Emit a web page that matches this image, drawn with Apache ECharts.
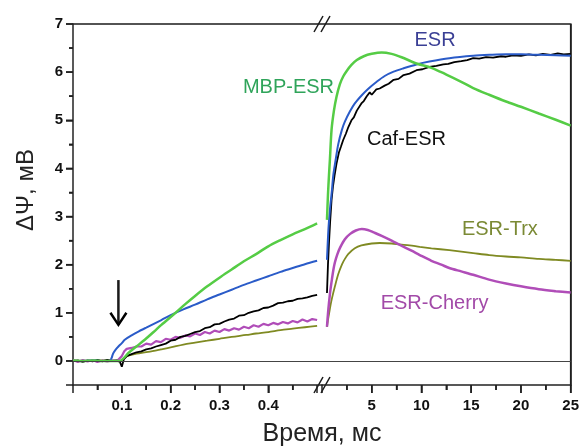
<!DOCTYPE html>
<html>
<head>
<meta charset="UTF-8">
<script src="https://cdn.jsdelivr.net/npm/echarts@6/dist/echarts.min.js"></script>
<style>html,body{margin:0}#chart{width:582px;height:447px}</style>
</head>
<body>
<div id="chart"></div>
<script>
// tick labels and tick positions
var yTickLabels = [0, 1, 2, 3, 4, 5, 6, 7];
var yMinorTicks = [0.5, 1.5, 2.5, 3.5, 4.5, 5.5, 6.5];
var fastTickLabels = [0.1, 0.2, 0.3, 0.4];
var fastMinorTicks = [0.05, 0.15, 0.25, 0.35, 0.45];
var slowTickLabels = [5, 10, 15, 20, 25];
var slowMinorTicks = [2.5, 7.5, 12.5, 17.5, 22.5];

// data: [time ms, ΔΨ mV], fast part 0–0.5 ms, slow part 0.5–25 ms
var mbpFast = [[0,0.01],[0.02,0],[0.04,0.01],[0.06,0],[0.08,0],[0.096,0],[0.105,0.07],[0.113,0.16],[0.13,0.3],[0.147,0.44],[0.165,0.6],[0.181,0.75],[0.209,0.99],[0.23,1.18],[0.25,1.35],[0.275,1.55],[0.3,1.73],[0.325,1.9],[0.35,2.07],[0.375,2.22],[0.4,2.38],[0.425,2.51],[0.45,2.63],[0.475,2.74],[0.5,2.86]];
var mbpSlow = [[0.5,2.93],[0.6,3.45],[0.7,3.85],[0.8,4.2],[0.96,4.8],[1.2,5.2],[1.46,5.49],[1.8,5.75],[2.13,5.91],[2.5,6.03],[2.96,6.15],[3.5,6.25],[4.2,6.33],[5,6.38],[6,6.41],[7,6.38],[8,6.31],[9.5,6.18],[11,6.09],[12.5,5.95],[14,5.8],[15.2,5.67],[16.8,5.53],[18.5,5.39],[20,5.28],[21.8,5.14],[23.5,5.01],[25,4.89]];

var esrFast = [[0,0],[0.02,0],[0.04,0.01],[0.06,0],[0.075,0],[0.079,0.06],[0.082,0.15],[0.087,0.23],[0.093,0.3],[0.1,0.37],[0.106,0.44],[0.12,0.53],[0.134,0.61],[0.15,0.69],[0.181,0.85],[0.2,0.95],[0.226,1.07],[0.25,1.17],[0.275,1.28],[0.3,1.38],[0.325,1.48],[0.35,1.58],[0.375,1.67],[0.4,1.76],[0.425,1.85],[0.45,1.93],[0.475,2.01],[0.5,2.08]];
var esrSlow = [[0.5,2.1],[0.65,2.75],[0.8,3.15],[1.0,3.55],[1.13,3.85],[1.35,4.15],[1.63,4.5],[2.0,4.8],[2.3,4.97],[2.8,5.18],[3.3,5.35],[4.0,5.52],[4.63,5.65],[5.5,5.8],[6.3,5.92],[7.2,6.01],[8.2,6.08],[9.5,6.16],[10.8,6.22],[12.8,6.29],[15.2,6.34],[17,6.36],[18.5,6.37],[20,6.37],[21.8,6.36],[23.5,6.35],[25,6.34]];

var cafFast = [[0,0],[0.01,0.01],[0.02,-0.02],[0.03,0.01],[0.04,-0.01],[0.05,0.02],[0.06,-0.01],[0.07,0.02],[0.08,0],[0.09,0.01],[0.096,-0.02],[0.1,-0.12],[0.104,0.03],[0.11,0.1],[0.12,0.14],[0.13,0.18],[0.14,0.2],[0.15,0.24],[0.16,0.26],[0.17,0.3],[0.18,0.33],[0.19,0.36],[0.2,0.42],[0.21,0.44],[0.22,0.5],[0.23,0.52],[0.24,0.56],[0.25,0.6],[0.26,0.62],[0.27,0.68],[0.28,0.7],[0.29,0.76],[0.3,0.77],[0.31,0.82],[0.32,0.86],[0.33,0.88],[0.34,0.94],[0.35,0.95],[0.36,1.0],[0.37,1.03],[0.38,1.05],[0.39,1.1],[0.4,1.11],[0.41,1.15],[0.42,1.2],[0.43,1.21],[0.44,1.24],[0.45,1.25],[0.46,1.29],[0.47,1.3],[0.48,1.32],[0.49,1.35],[0.5,1.37]];
var cafSlow = [[0.5,1.41],[0.6,2.0],[0.7,2.44],[0.82,2.9],[0.96,3.34],[1.1,3.62],[1.26,3.85],[1.46,4.1],[1.7,4.33],[1.9,4.45],[2.13,4.59],[2.4,4.72],[2.65,4.86],[2.96,5.0],[3.2,5.06],[3.5,5.2],[3.7,5.22],[3.96,5.35],[4.2,5.4],[4.5,5.5],[4.8,5.58],[5.0,5.53],[5.2,5.55],[5.46,5.64],[5.8,5.66],[6.3,5.72],[6.7,5.76],[7.2,5.84],[7.7,5.86],[8.2,5.94],[8.8,5.97],[9.5,6.04],[10.1,6.06],[10.8,6.11],[11.5,6.13],[12.2,6.16],[12.7,6.17],[13.3,6.21],[14,6.23],[14.6,6.25],[15.2,6.29],[15.8,6.28],[16.5,6.31],[17.2,6.3],[18,6.33],[18.5,6.32],[19.2,6.35],[20,6.34],[20.8,6.37],[21.5,6.35],[22.2,6.38],[23,6.36],[23.7,6.39],[24.3,6.37],[25,6.38]];

var cherryFast = [[0,0.02],[0.01,-0.02],[0.02,0.02],[0.03,-0.01],[0.04,0.02],[0.05,-0.02],[0.06,0.01],[0.07,-0.01],[0.08,0.01],[0.09,0],[0.1,0.1],[0.105,0.2],[0.11,0.25],[0.12,0.27],[0.13,0.3],[0.14,0.3],[0.15,0.36],[0.16,0.34],[0.17,0.41],[0.18,0.39],[0.19,0.46],[0.2,0.44],[0.21,0.5],[0.22,0.48],[0.23,0.53],[0.24,0.51],[0.25,0.57],[0.26,0.54],[0.27,0.6],[0.28,0.57],[0.29,0.63],[0.3,0.6],[0.31,0.66],[0.32,0.63],[0.33,0.68],[0.34,0.65],[0.35,0.71],[0.36,0.68],[0.37,0.74],[0.38,0.71],[0.39,0.77],[0.4,0.74],[0.41,0.79],[0.42,0.76],[0.43,0.81],[0.44,0.78],[0.45,0.83],[0.46,0.8],[0.47,0.86],[0.48,0.82],[0.49,0.87],[0.5,0.85]];
var cherrySlow = [[0.5,0.71],[0.6,0.98],[0.7,1.2],[0.85,1.48],[1.0,1.7],[1.15,1.9],[1.3,2.05],[1.55,2.22],[1.83,2.36],[2.3,2.53],[2.83,2.64],[3.4,2.71],[4.0,2.74],[4.6,2.72],[5.2,2.67],[6.0,2.6],[7.0,2.5],[7.83,2.41],[9.0,2.29],[9.83,2.2],[11,2.08],[12,2.0],[12.8,1.93],[14,1.86],[15.2,1.79],[16.8,1.69],[18.5,1.61],[20,1.55],[21.8,1.49],[23.5,1.45],[25,1.42]];

var trxFast = [[0,0],[0.02,0],[0.04,0],[0.06,0.01],[0.08,0],[0.096,0],[0.105,0.06],[0.113,0.11],[0.13,0.15],[0.154,0.19],[0.18,0.24],[0.2,0.28],[0.226,0.34],[0.25,0.38],[0.275,0.42],[0.3,0.46],[0.325,0.5],[0.355,0.54],[0.375,0.57],[0.4,0.6],[0.425,0.64],[0.45,0.67],[0.475,0.7],[0.5,0.73]];
var trxSlow = [[0.5,0.71],[0.6,0.85],[0.7,0.97],[0.85,1.15],[1.0,1.3],[1.3,1.55],[1.63,1.8],[2.0,2.0],[2.3,2.12],[2.63,2.22],[3.3,2.34],[3.96,2.4],[5.0,2.44],[5.8,2.45],[7.0,2.44],[7.83,2.42],[8.8,2.4],[9.83,2.37],[11,2.34],[12.8,2.3],[14,2.27],[15.2,2.24],[16.8,2.2],[18.5,2.17],[20,2.15],[21.8,2.12],[23.5,2.1],[25,2.08]];

var FONT = 'Liberation Sans';
var INK = '#222';

var chart = echarts.init(document.getElementById('chart'));

function inList(list, v) {
    return list.some(function (x) { return Math.abs(x - v) < 1e-6; });
}
function makeAxis(grid, min, max, pos, interval, shown) {
    var a = {
        type: 'value', gridIndex: grid, min: min, max: max, position: pos,
        axisLine: {show: true, onZero: false, lineStyle: {color: INK, width: 1.5}},
        axisTick: {show: true, length: pos === 'left' ? 7 : 8, lineStyle: {color: INK, width: 1.5}},
        minorTick: {show: true, splitNumber: 2, length: pos === 'left' ? 4 : 5, lineStyle: {color: INK, width: 1.5}},
        axisLabel: {
            color: '#111', fontFamily: FONT, fontWeight: 'bold', fontSize: 15,
            margin: pos === 'left' ? 10 : 13,
            formatter: function (v) { return inList(shown, v) ? String(v) : ''; }
        },
        splitLine: {show: false}
    };
    if (interval) a.interval = interval;
    else a.splitNumber = 7;
    return a;
}
function makeLine(data, color, width, idx, smooth) {
    return {
        type: 'line', data: data, xAxisIndex: idx, yAxisIndex: idx,
        showSymbol: false, smooth: smooth,
        lineStyle: {color: color, width: width}
    };
}
function zeroLine() {
    return {
        symbol: 'none', label: {show: false},
        lineStyle: {color: '#444', width: 1, type: 'solid'},
        data: [{yAxis: 0}]
    };
}

var fastMax = 0.51;
var trxF = makeLine(trxFast, '#7f8a22', 1.8, 0, 0.3);
trxF.markLine = zeroLine();
var trxS = makeLine(trxSlow, '#7f8a22', 1.8, 1, 0.3);
trxS.markLine = zeroLine();
var rightAxis = makeAxis(1, -0.5, 7, 'right', null, []);
rightAxis.axisTick = {show: false};
rightAxis.minorTick = {show: false};
rightAxis.axisLabel = {show: false};

chart.setOption({
    animation: false,
    grid: [
        {left: 73, top: 24, width: 249, height: 361},
        {left: 322, top: 24, width: 250, height: 361}
    ],
    xAxis: [
        makeAxis(0, 0, fastMax, 'bottom', 0.1, fastTickLabels),
        makeAxis(1, 0, 25, 'bottom', 5, slowTickLabels)
    ],
    yAxis: [
        makeAxis(0, -0.5, 7, 'left', null, yTickLabels),
        rightAxis
    ],
    series: [
        trxF,
        makeLine(cherryFast, '#b04db8', 2.2, 0, false),
        makeLine(cafFast, '#000000', 1.8, 0, false),
        makeLine(esrFast, '#2a5bc8', 2, 0, 0.3),
        makeLine(mbpFast, '#55cc45', 2.5, 0, 0.3),
        trxS,
        makeLine(cherrySlow, '#b04db8', 2.5, 1, 0.3),
        makeLine(cafSlow, '#000000', 1.8, 1, false),
        makeLine(esrSlow, '#2a5bc8', 2, 1, 0.3),
        makeLine(mbpSlow, '#55cc45', 2.5, 1, 0.3)
    ]
});

// pixel mappings taken from the axes (interior points only)
function px(fast, t, v) {
    var i = fast ? 0 : 1;
    return chart.convertToPixel({xAxisIndex: i, yAxisIndex: i}, [t, v]);
}
var f1 = px(true, 0.1, 1), f2 = px(true, 0.2, 2);
var s1 = px(false, 5, 1), s2 = px(false, 10, 2);
function fx(t) { return f1[0] + (t - 0.1) * (f2[0] - f1[0]) / 0.1; }
function sx(t) { return s1[0] + (t - 5) * (s2[0] - s1[0]) / 5; }
function yy(v) { return f1[1] + (v - 1) * (f2[1] - f1[1]); }

function textLabel(text, p, color) {
    return {
        type: 'text', x: p[0], y: p[1],
        style: {text: text, fill: color, font: '20px ' + FONT, align: 'left', verticalAlign: 'middle',
                textAlign: 'left', textVerticalAlign: 'middle'}
    };
}
function seg(x1, y1, x2, y2, w) {
    return {type: 'line', shape: {x1: x1, y1: y1, x2: x2, y2: y2},
            style: {stroke: '#1a1a1a', lineWidth: w || 1.5}};
}
var left = fx(0), right = sx(25), topY = yy(7), bottomY = yy(-0.5), brk = sx(0);
var graphics = [];
// frame top and right
graphics.push(seg(left, topY, right, topY));
graphics.push(seg(right, topY, right, bottomY));
// ticks
yTickLabels.forEach(function (v) { graphics.push(seg(left - 7, yy(v), left, yy(v))); });
yMinorTicks.forEach(function (v) { graphics.push(seg(left - 4, yy(v), left, yy(v))); });
fastTickLabels.forEach(function (t) { graphics.push(seg(fx(t), bottomY, fx(t), bottomY + 8)); });
fastMinorTicks.forEach(function (t) { graphics.push(seg(fx(t), bottomY, fx(t), bottomY + 5)); });
slowTickLabels.forEach(function (t) { graphics.push(seg(sx(t), bottomY, sx(t), bottomY + 8)); });
slowMinorTicks.forEach(function (t) { graphics.push(seg(sx(t), bottomY, sx(t), bottomY + 5)); });
// axis break marks
[topY, bottomY].forEach(function (y) {
    [-3.5, 3.5].forEach(function (dx) {
        graphics.push(seg(brk + dx - 4.5, y + 8, brk + dx + 4.5, y - 8));
    });
});
// arrow at the flash moment
graphics.push(seg(fx(0.093), yy(1.68), fx(0.093), yy(0.75), 2.5));
graphics.push({type: 'polyline', shape: {points: [[fx(0.093) - 8, yy(1.0)], [fx(0.093), yy(0.75)], [fx(0.093) + 8, yy(1.0)]]},
               style: {stroke: '#000', lineWidth: 2.5, fill: 'none'}});
graphics.push(textLabel('MBP-ESR', [fx(0.348), yy(5.69)], '#2fa45a'));
graphics.push(textLabel('ESR', [sx(9.3), yy(6.66)], '#3a3f95'));
graphics.push(textLabel('Caf-ESR', [sx(4.53), yy(4.61)], '#111111'));
graphics.push(textLabel('ESR-Trx', [sx(14.07), yy(2.74)], '#7b8a35'));
graphics.push(textLabel('ESR-Cherry', [sx(5.9), yy(1.2)], '#a24aa8'));
graphics.push({
    type: 'text', x: 26, y: 190, rotation: Math.PI / 2,
    style: {text: 'ΔΨ, мВ', fill: '#222', font: '24px ' + FONT, align: 'center', verticalAlign: 'middle',
            textAlign: 'center', textVerticalAlign: 'middle'}
});
graphics.push({
    type: 'text', x: 322, y: 434,
    style: {text: 'Время, мс', fill: '#222', font: '25px ' + FONT, align: 'center', verticalAlign: 'middle',
            textAlign: 'center', textVerticalAlign: 'middle'}
});
chart.setOption({graphic: graphics});
</script>
</body>
</html>
